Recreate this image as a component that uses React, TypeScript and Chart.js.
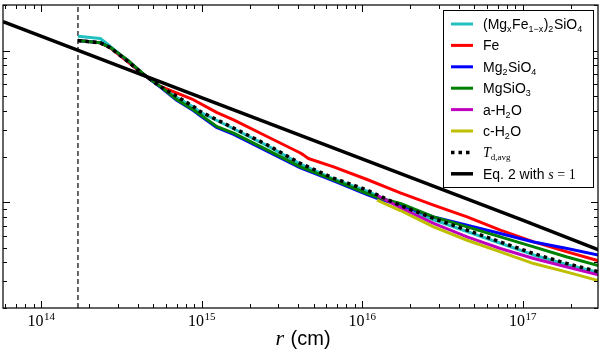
import React, { useEffect, useRef } from "react";
import { Chart, registerables } from "chart.js";

Chart.register(...registerables);

// ---- axes ----
const xMin = 5.8e13;
const xMax = 2.95e17;
const yMin = 20;
const yMax = 2000;
const xTickValues = [1e14, 1e15, 1e16, 1e17];
const xTickBase = ["10", "10", "10", "10"];
const xTickExponents = ["14", "15", "16", "17"];

// ---- inner radius marker (vertical dashed line) ----
const innerR = [1.7e14, 1.7e14];
const innerT = [20, 2000];

// ---- series: radius r (cm) and dust temperature T (K) ----
const olivineR = [1.7e14, 2.34e14, 2.7e14, 3.44e14, 4.34e14, 5.54e14, 7.04e14, 8.89e14, 9.83e14, 1.585e15, 2.56e15, 4.13e15, 6.65e15, 1.075e16, 1.732e16, 2.79e16, 4.51e16, 7.27e16, 1.173e17, 1.894e17, 3e17];
const olivineT = [1243, 1201, 1068, 860, 699, 578, 490, 424, 392, 305, 236, 178, 142, 118, 93.5, 76.5, 64, 53.5, 44.8, 38.6, 34.2];

const feR = [1.7e14, 2.34e14, 2.7e14, 3.44e14, 4.34e14, 5.54e14, 8.89e14, 1.25e15, 1.585e15, 2.56e15, 4.13e15, 4.31e15, 4.63e15, 6.65e15, 1.075e16, 1.732e16, 2.79e16, 4.51e16, 7.27e16, 1.173e17, 1.894e17, 3e17];
const feT = [1165, 1125, 1042, 849, 694, 580, 474, 390, 349, 271, 211, 205, 194, 171, 141, 115, 95.5, 79.9, 65.3, 54.6, 46.9, 40.9];

const forsteriteR = [1.7e14, 2.34e14, 2.7e14, 3.44e14, 4.34e14, 5.54e14, 7.04e14, 8.89e14, 9.83e14, 1.25e15, 1.585e15, 2.56e15, 4.13e15, 6.65e15, 1.075e16, 1.3e16, 1.732e16, 2.79e16, 4.51e16, 7.27e16, 1.173e17, 1.894e17, 3e17];
const forsteriteT = [1165, 1125, 1050, 868, 698, 575, 468, 402, 372, 310, 280, 217, 168, 138, 112, 104, 95.5, 79.9, 70.4, 62.0, 54.6, 49.4, 44.6];

const enstatiteR = [1.7e14, 2.34e14, 2.7e14, 3.44e14, 4.34e14, 5.54e14, 7.04e14, 8.89e14, 9.83e14, 1.25e15, 1.585e15, 2.56e15, 4.13e15, 6.65e15, 1.075e16, 1.3e16, 1.732e16, 2.79e16, 4.51e16, 7.27e16, 1.173e17, 1.894e17, 3e17];
const enstatiteT = [1165, 1125, 1052, 872, 701, 580, 474, 407, 377, 315, 285, 221, 171, 140, 114, 106, 98, 79.9, 68.6, 58.9, 50.6, 43.4, 38.0];

const aIceR = [1.24e16, 1.732e16, 2.79e16, 4.51e16, 7.27e16, 1.173e17, 1.894e17, 3e17];
const aIceT = [111, 92.0, 72.3, 58.9, 49.4, 42.4, 37.3, 33.0];

const cIceR = [1.24e16, 1.732e16, 2.79e16, 4.51e16, 7.27e16, 1.173e17, 1.894e17, 3e17];
const cIceT = [103, 88, 68.6, 56.0, 46.9, 39.3, 34.5, 30.2];

const avgR = [1.7e14, 2.34e14, 2.7e14, 3.44e14, 4.34e14, 5.54e14, 7.04e14, 8.89e14, 9.83e14, 1.585e15, 2.56e15, 4.13e15, 6.65e15, 1.075e16, 1.732e16, 2.79e16, 4.51e16, 7.27e16, 1.173e17, 1.894e17, 3e17];
const avgT = [1165, 1125, 1045, 855, 697, 580, 498, 428, 396, 308, 239, 180, 144, 120, 95, 78, 65.3, 54.6, 45.7, 39.3, 34.6];

const eq2R = [5.8e13, 1e14, 1e15, 1e16, 1e17, 3e17];
const eq2T = [1556, 1247, 490, 193, 76, 48.3];

// ---- legend ----
type Seg = { t: string; sub?: boolean; math?: boolean; italic?: boolean };
const legendLabels: Seg[][] = [
  [{ t: "(Mg" }, { t: "x", sub: true }, { t: "Fe" }, { t: "1\u2212x", sub: true }, { t: ")" }, { t: "2", sub: true }, { t: "SiO" }, { t: "4", sub: true }],
  [{ t: "Fe" }],
  [{ t: "Mg" }, { t: "2", sub: true }, { t: "SiO" }, { t: "4", sub: true }],
  [{ t: "MgSiO" }, { t: "3", sub: true }],
  [{ t: "a-H" }, { t: "2", sub: true }, { t: "O" }],
  [{ t: "c-H" }, { t: "2", sub: true }, { t: "O" }],
  [{ t: "T", math: true, italic: true }, { t: "d,avg", sub: true, math: true }],
  [{ t: "Eq. 2 with " }, { t: "s", math: true, italic: true }, { t: " = 1", math: true }],
];
const legendColors = ["#22c0c0", "#ff0000", "#0000ff", "#008000", "#bf00bf", "#bfbf00", "#000000", "#000000"];
const legendDotted = [false, false, false, false, false, false, true, false];

const SANS = '"Liberation Sans", Arial, sans-serif';
const SERIF = '"Liberation Serif", "DejaVu Serif", serif';

function pts(r: number[], t: number[]) {
  return r.map((v, i) => ({ x: v, y: t[i] }));
}

function segFont(s: Seg, size: number) {
  const fam = s.math ? SERIF : SANS;
  return `${s.italic ? "italic " : ""}${size}px ${fam}`;
}

const decorPlugin = {
  id: "decor",
  afterDatasetsDraw(chart: any) {
    const { ctx, chartArea: a, scales } = chart;
    const xs = scales.x;
    const ys = scales.y;
    ctx.save();
    ctx.strokeStyle = "#000";
    ctx.lineWidth = 1;
    ctx.beginPath();
    for (let d = 13; d <= 17; d++) {
      for (let m = 1; m <= 9; m++) {
        const v = m * Math.pow(10, d);
        if (v < xMin || v > xMax) continue;
        const px = Math.round(xs.getPixelForValue(v)) + 0.5;
        const len = m === 1 ? 7 : 4;
        ctx.moveTo(px, a.bottom);
        ctx.lineTo(px, a.bottom - len);
        ctx.moveTo(px, a.top);
        ctx.lineTo(px, a.top + len);
      }
    }
    for (let d = 1; d <= 3; d++) {
      for (let m = 1; m <= 9; m++) {
        const v = m * Math.pow(10, d);
        if (v < yMin || v > yMax) continue;
        const py = Math.round(ys.getPixelForValue(v)) + 0.5;
        const len = m === 1 ? 7 : 4;
        ctx.moveTo(a.left, py);
        ctx.lineTo(a.left + len, py);
        ctx.moveTo(a.right, py);
        ctx.lineTo(a.right - len, py);
      }
    }
    ctx.stroke();
    ctx.lineWidth = 1.3;
    ctx.strokeStyle = "#111";
    ctx.strokeRect(a.left, a.top, a.right - a.left, a.bottom - a.top);
    ctx.restore();
  },
  afterDraw(chart: any) {
    const { ctx, chartArea: a, scales } = chart;
    const xs = scales.x;
    ctx.save();
    ctx.fillStyle = "#000";
    ctx.textBaseline = "alphabetic";
    ctx.textAlign = "left";
    // x tick labels
    xTickValues.forEach((v, i) => {
      const px = xs.getPixelForValue(v);
      ctx.font = `16px ${SERIF}`;
      const wb = ctx.measureText(xTickBase[i]).width;
      ctx.font = `11px ${SERIF}`;
      const we = ctx.measureText(xTickExponents[i]).width;
      const x0 = px - (wb + we) / 2;
      ctx.font = `16px ${SERIF}`;
      ctx.fillText(xTickBase[i], x0, a.bottom + 18);
      ctx.font = `11px ${SERIF}`;
      ctx.fillText(xTickExponents[i], x0 + wb + 0.5, a.bottom + 11.5);
    });
    // axis title
    ctx.font = `italic 22px ${SERIF}`;
    const wr = ctx.measureText("r").width;
    ctx.font = `20px ${SANS}`;
    const wc = ctx.measureText(" (cm)").width;
    const cx = (a.left + a.right) / 2 + 2;
    const tx = cx - (wr + wc) / 2;
    ctx.font = `italic 22px ${SERIF}`;
    ctx.fillText("r", tx, 345);
    ctx.font = `20px ${SANS}`;
    ctx.fillText(" (cm)", tx + wr + 1, 345);

    // legend
    const bx = 443, by = 10, bw = 150, bh = 177;
    ctx.fillStyle = "#fff";
    ctx.fillRect(bx, by, bw, bh);
    ctx.strokeStyle = "#000";
    ctx.lineWidth = 1;
    ctx.strokeRect(bx + 0.5, by + 0.5, bw, bh);
    legendLabels.forEach((segs, i) => {
      const cy = 24 + i * 21.4;
      ctx.save();
      ctx.strokeStyle = legendColors[i];
      ctx.lineWidth = i === 7 ? 3.5 : 3;
      if (legendDotted[i]) {
        ctx.setLineDash([3.5, 4]);
        ctx.lineWidth = 3.5;
      }
      ctx.beginPath();
      ctx.moveTo(451, cy);
      ctx.lineTo(473, cy);
      ctx.stroke();
      ctx.restore();
      let x = 483;
      ctx.fillStyle = "#000";
      segs.forEach((s) => {
        const size = s.sub ? 9 : 14;
        ctx.font = segFont(s, size);
        const y = s.sub ? cy + 8 : cy + 5;
        ctx.fillText(s.t, x, y);
        x += ctx.measureText(s.t).width + (s.sub ? 0.5 : 0);
      });
    });
    ctx.restore();
  },
};

export default function App() {
  const ref = useRef<HTMLCanvasElement | null>(null);
  useEffect(() => {
    document.body.style.margin = "0";
    const canvas = ref.current;
    if (!canvas) return;
    const line = (data: any, color: string, width: number, order: number, dash?: number[]) => ({
      data,
      borderColor: color,
      backgroundColor: color,
      borderWidth: width,
      borderDash: dash || [],
      pointRadius: 0,
      fill: false,
      tension: 0,
      order,
      clip: 0,
      borderCapStyle: "butt",
      borderJoinStyle: "round",
    });
    const chart = new Chart(canvas, {
      type: "line",
      data: {
        datasets: [
          line(pts(innerR, innerT), "#000", 1.2, 9, [5, 3]),
          line(pts(olivineR, olivineT), legendColors[0], 3, 8),
          line(pts(feR, feT), legendColors[1], 3, 7),
          line(pts(forsteriteR, forsteriteT), legendColors[2], 3, 6),
          line(pts(enstatiteR, enstatiteT), legendColors[3], 3, 5),
          line(pts(aIceR, aIceT), legendColors[4], 3, 4),
          line(pts(cIceR, cIceT), legendColors[5], 3, 3),
          line(pts(avgR, avgT), "#000", 3.5, 2, [3.5, 4]),
          line(pts(eq2R, eq2T), "#000", 3.5, 1),
        ] as any,
      },
      options: {
        animation: false,
        responsive: false,
        devicePixelRatio: 1,
        layout: { padding: { left: 3, right: 2, top: 5, bottom: 43 } },
        plugins: { legend: { display: false }, tooltip: { enabled: false } },
        scales: {
          x: { type: "logarithmic", min: xMin, max: xMax, display: false },
          y: { type: "logarithmic", min: yMin, max: yMax, display: false },
        },
        elements: { point: { radius: 0 } },
      } as any,
      plugins: [decorPlugin],
    });
    return () => chart.destroy();
  }, []);
  return <canvas ref={ref} width={600} height={351} style={{ display: "block" }} />;
}
